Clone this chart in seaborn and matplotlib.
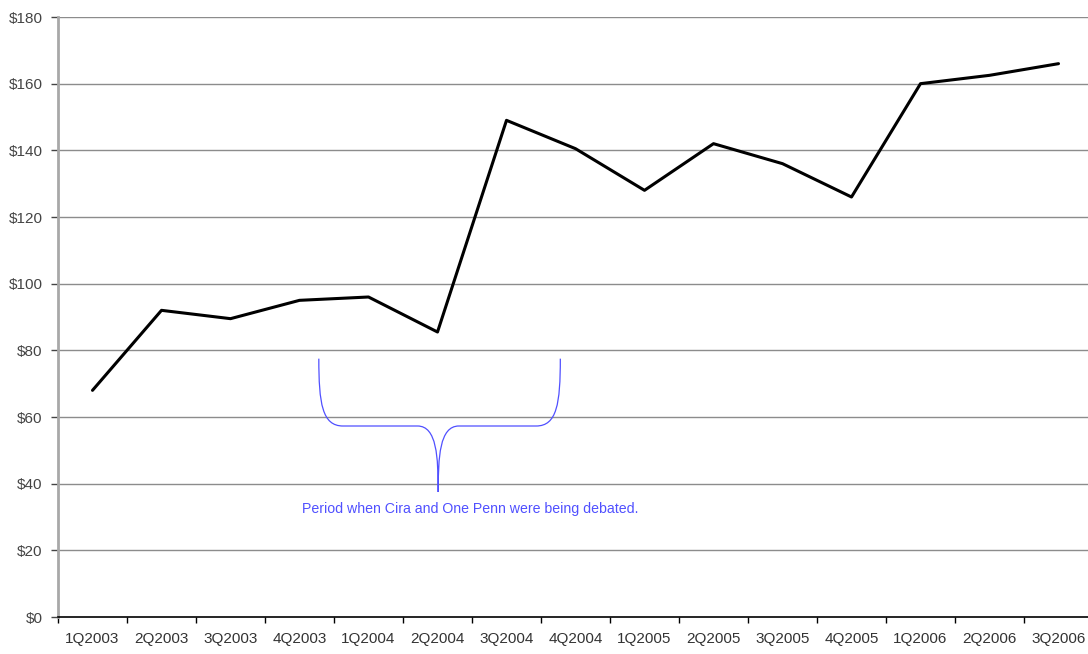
import matplotlib
matplotlib.use("Agg")
import matplotlib.pyplot as plt
from matplotlib.path import Path
from matplotlib.patches import PathPatch
import seaborn as sns
import pandas as pd

quarters = ["1Q2003", "2Q2003", "3Q2003", "4Q2003", "1Q2004", "2Q2004", "3Q2004", "4Q2004",
            "1Q2005", "2Q2005", "3Q2005", "4Q2005", "1Q2006", "2Q2006", "3Q2006"]
values = [68, 92, 89.5, 95, 96, 85.5, 149, 140.5, 128, 142, 136, 126, 160, 162.5, 166]
yticks = [0, 20, 40, 60, 80, 100, 120, 140, 160, 180]
ytick_labels = [f"${v}" for v in yticks]
note = "Period when Cira and One Penn were being debated."

sns.set_theme(style="white")
plt.rcParams['font.family'] = ['Liberation Sans', 'DejaVu Sans']

df = pd.DataFrame({"quarter": quarters, "value": values})

fig = plt.figure(figsize=(10.88, 6.54), dpi=100)
ax = fig.add_axes([58/1088, 1 - 617/654, 1035/1088, 600/654])

sns.lineplot(data=df, x="quarter", y="value", sort=False, color="black", linewidth=2.2, ax=ax)

ax.set_xlim(-0.5, len(quarters) - 0.5)
ax.set_ylim(0, 180)
ax.set_yticks(yticks)
ax.set_yticklabels(ytick_labels, fontsize=11, color="#444444")
ax.set_xticks(range(len(quarters)))
ax.set_xticklabels(quarters, fontsize=11, color="#333333")
ax.set_xticks([i - 0.5 for i in range(len(quarters) + 1)], minor=True)
ax.tick_params(axis="x", which="major", length=0, pad=11)
ax.tick_params(axis="x", which="minor", length=4, width=1, color="black", direction="out", bottom=True)
ax.tick_params(axis="y", length=5, width=1, color="#444444", direction="out", left=True, pad=6)
ax.set_xlabel("")
ax.set_ylabel("")

for v in yticks[1:]:
    ax.axhline(v, color="#8c8c8c", linewidth=1.0, zorder=0)

for s in ["top", "right"]:
    ax.spines[s].set_visible(False)
ax.spines["left"].set_color("#a8a8a8")
ax.spines["left"].set_linewidth(2.0)
ax.spines["bottom"].set_color("black")
ax.spines["bottom"].set_linewidth(1.2)

# curly brace annotation (data coordinates)
blue = "#5050ff"
xl, xr, xt = 3.28, 6.78, 5.01
ytop, ymid, ytip = 77.5, 57.3, 37.5
verts = [
    (xl, ytop), (xl, 64), (xl + 0.05, ymid), (xl + 0.35, ymid),
    (xt - 0.3, ymid),
    (xt - 0.02, ymid), (xt, 48), (xt, ytip),
    (xt, 48), (xt + 0.02, ymid), (xt + 0.3, ymid),
    (xr - 0.35, ymid),
    (xr - 0.05, ymid), (xr, 64), (xr, ytop),
]
codes = [Path.MOVETO, Path.CURVE4, Path.CURVE4, Path.CURVE4,
         Path.LINETO,
         Path.CURVE4, Path.CURVE4, Path.CURVE4,
         Path.CURVE4, Path.CURVE4, Path.CURVE4,
         Path.LINETO,
         Path.CURVE4, Path.CURVE4, Path.CURVE4]
ax.add_patch(PathPatch(Path(verts, codes), facecolor="none", edgecolor=blue, linewidth=0.9))
ax.text(5.48, 32.5, note, color=blue, fontsize=10.2, ha="center", va="center")

fig.savefig("out.png", dpi=100)
